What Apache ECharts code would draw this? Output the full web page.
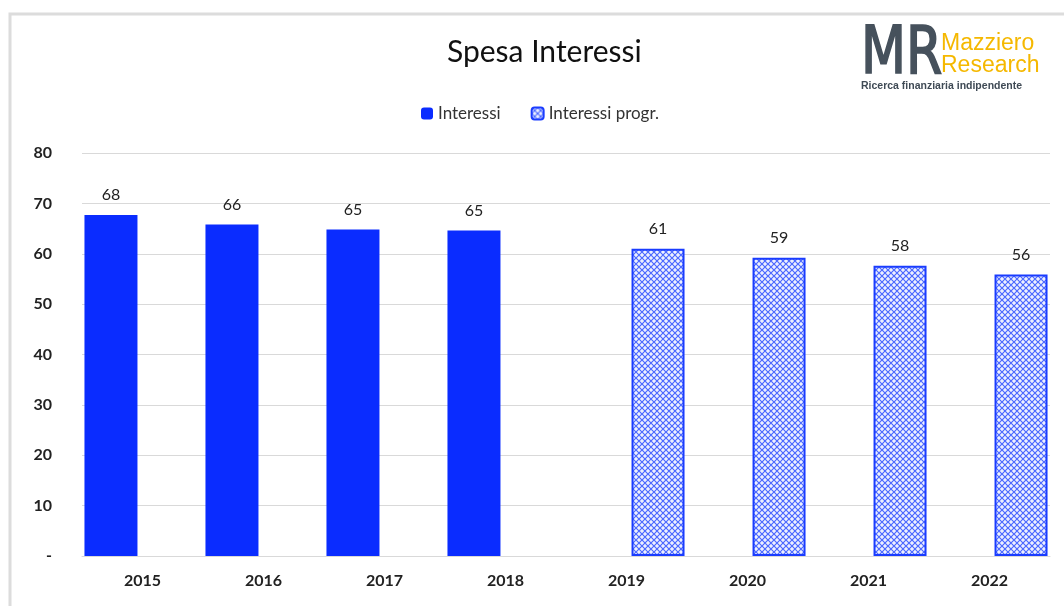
<!DOCTYPE html>
<html>
<head>
<meta charset="utf-8">
<script src="https://cdn.jsdelivr.net/npm/echarts@6/dist/echarts.min.js"></script>
<style>
  html, body { margin: 0; padding: 0; background: #fff; }
  #chart { width: 1064px; height: 606px; }
</style>
</head>
<body>
<div id="chart"></div>
<script>
// dati
const years = ['2015', '2016', '2017', '2018', '2019', '2020', '2021', '2022']
const interessi = [67.7, 65.8, 64.8, 64.6, null, null, null, null]
const interessiProgr = [null, null, null, null, 61.0, 59.2, 57.6, 55.9]
const yTicks = [0, 10, 20, 30, 40, 50, 60, 70, 80]

// motivo a reticolo per le stime
const makePattern = () => {
  const c = document.createElement('canvas')
  c.width = 6
  c.height = 6
  const ctx = c.getContext('2d')
  ctx.fillStyle = '#eef1ff'
  ctx.fillRect(0, 0, 6, 6)
  ctx.strokeStyle = '#4a68ff'
  ctx.lineWidth = 1.2
  ctx.beginPath()
  ctx.moveTo(0, 0); ctx.lineTo(6, 6)
  ctx.moveTo(6, 0); ctx.lineTo(0, 6)
  ctx.stroke()
  return c
}

const chart = echarts.init(document.getElementById('chart'))
const font = 'Lato, "Open Sans", sans-serif'
const labelFmt = (p) => p.value == null ? '' : Math.round(p.value)

chart.setOption({
  animation: false,
  textStyle: { fontFamily: font },
  title: {
    text: 'Spesa Interessi',
    left: 442,
    top: 32,
    textStyle: { fontSize: 30, fontWeight: 'normal', color: '#111', fontFamily: font }
  },
  legend: {
    top: 100,
    left: 416,
    itemWidth: 12,
    itemHeight: 12,
    itemGap: 30,
    textStyle: { fontSize: 17, color: '#333', fontFamily: font },
    data: ['Interessi', 'Interessi progr.']
  },
  grid: { left: 82, right: 14, top: 153, bottom: 50 },
  xAxis: {
    type: 'category',
    data: years,
    axisTick: { show: false },
    axisLine: { lineStyle: { color: '#d9d9d9', width: 1 } },
    axisLabel: { fontSize: 16, color: '#222', fontWeight: 'bold', margin: 17, fontFamily: font }
  },
  yAxis: {
    type: 'value',
    min: 0,
    max: 80,
    interval: 10,
    axisLine: { show: false },
    axisTick: { show: false },
    splitLine: { lineStyle: { color: '#d9d9d9', width: 1 } },
    axisLabel: {
      fontSize: 16,
      color: '#222',
      fontWeight: 'bold',
      margin: 30,
      fontFamily: font,
      formatter: (v) => yTicks.includes(v) ? (v === 0 ? '-' : String(v)) : ''
    }
  },
  series: [
    {
      name: 'Interessi',
      type: 'bar',
      data: interessi,
      barWidth: 53,
      barGap: '19%',
      itemStyle: { color: '#0a2cff' },
      label: { show: true, position: 'top', distance: 12, fontSize: 16, color: '#222', formatter: labelFmt, fontFamily: font }
    },
    {
      name: 'Interessi progr.',
      type: 'bar',
      data: interessiProgr,
      barWidth: 53,
      itemStyle: {
        color: { image: makePattern(), repeat: 'repeat' },
        borderColor: '#1a3cff',
        borderWidth: 2
      },
      label: { show: true, position: 'top', distance: 12, fontSize: 16, color: '#222', formatter: labelFmt, fontFamily: font }
    }
  ],
  graphic: [
    {
      type: 'rect',
      shape: { x: 10, y: 14, width: 1070, height: 620 },
      style: { fill: 'none', stroke: '#dcdcdc', lineWidth: 3 },
      silent: true
    },
    {
      type: 'text',
      x: 861,
      y: 24,
      scaleY: 1.12,
      style: { text: 'MR', font: '58px "DejaVu Sans Condensed", sans-serif', fill: '#46515c', stroke: '#46515c', lineWidth: 1.5 }
    },
    {
      type: 'text',
      left: 941,
      top: 32,
      style: { text: 'Mazziero', font: '23px "Liberation Sans", Arial, sans-serif', fill: '#f5b800' }
    },
    {
      type: 'text',
      left: 941,
      top: 54,
      style: { text: 'Research', font: '23px "Liberation Sans", Arial, sans-serif', fill: '#f5b800' }
    },
    {
      type: 'text',
      left: 861,
      top: 81,
      style: { text: 'Ricerca finanziaria indipendente', font: 'bold 10.5px "Liberation Sans", Arial, sans-serif', fill: '#3f4a55' }
    }
  ]
})
</script>
</body>
</html>
